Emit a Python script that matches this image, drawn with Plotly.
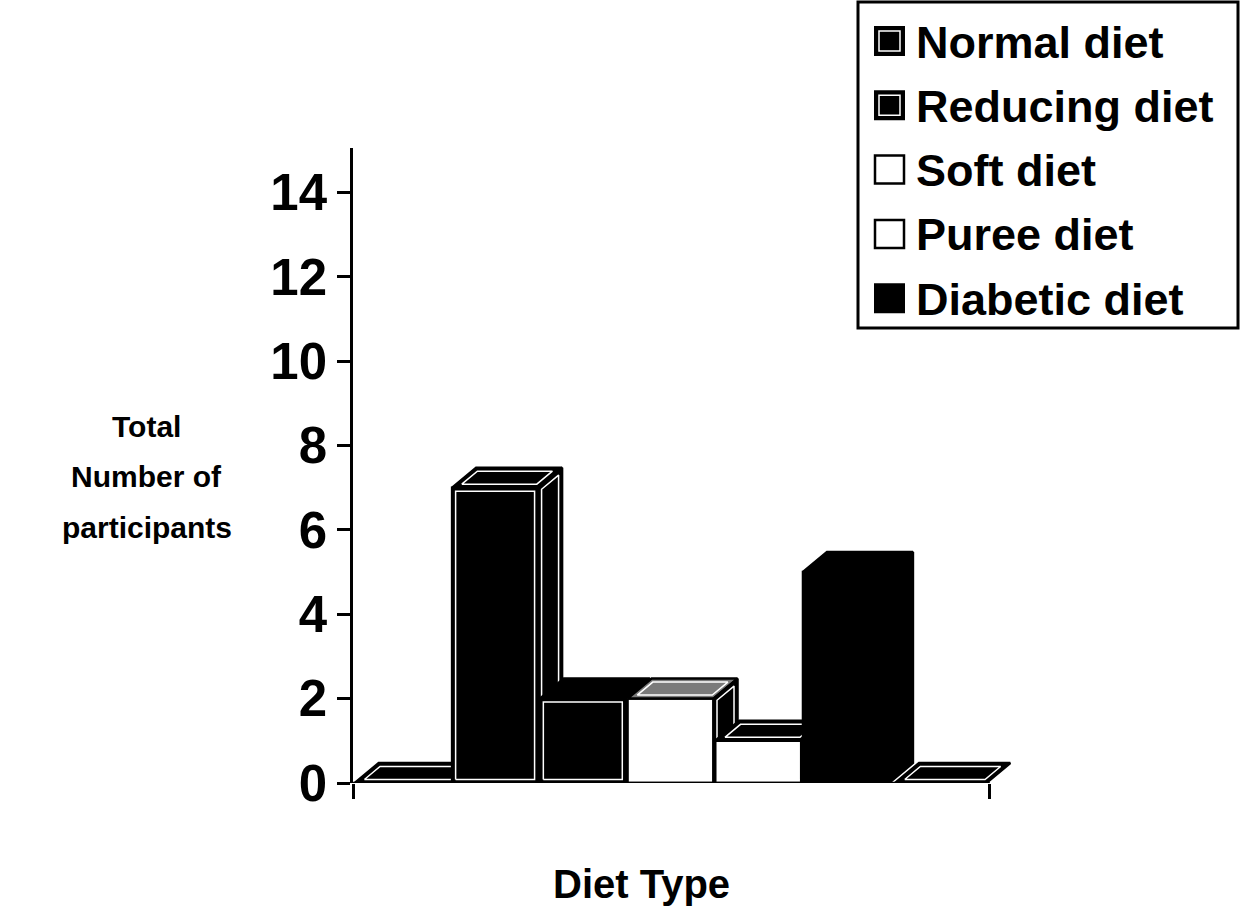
import math
import plotly.graph_objects as go

# ---- data -------------------------------------------------------------
slot_labels = ["", "Normal diet", "Reducing diet", "Soft diet", "Puree diet", "Diabetic diet", ""]
participants = [0, 7, 2, 2, 1, 5, 0]
legend_labels = ["Normal diet", "Reducing diet", "Soft diet", "Puree diet", "Diabetic diet"]
y_tick_values = [0, 2, 4, 6, 8, 10, 12, 14]

# ---- page / axis geometry ---------------------------------------------
W, H = 1249, 914
AXIS_START, AXIS_END = -0.62, 6.64      # ends of the category axis line
X_RANGE = [AXIS_START, 6.95]            # extra room on the right for the box depth
Y_RANGE = [0, 15.05]
M_L, M_T, M_B = 353, 148, 131
M_R = round(W - M_L - (X_RANGE[1] - X_RANGE[0]) * 87.7)
PLOT_W = W - M_L - M_R
PLOT_H = H - M_T - M_B
X_SCALE = PLOT_W / (X_RANGE[1] - X_RANGE[0])
Y_SCALE = PLOT_H / (Y_RANGE[1] - Y_RANGE[0])

# box widths per slot (category units); the empty end slots sit a little wider
BAR_WIDTHS = [1.12, 0.98, 0.98, 0.98, 0.98, 0.98, 1.04]
BAR_SHIFT = [-0.04, 0, 0, 0, 0, 0, 0.08]
DEPTH_DX, DEPTH_DY = 24, 20   # oblique depth of the 3-D boxes, pixels
INNER = 3.5                   # inset of the white highlight line, pixels
FONT = "Liberation Sans, Arial, sans-serif"


def to_px(x, y):
    return (M_L + (x - X_RANGE[0]) * X_SCALE, H - M_B - (y - Y_RANGE[0]) * Y_SCALE)


def to_data(px, py):
    return (X_RANGE[0] + (px - M_L) / X_SCALE, Y_RANGE[0] + (H - M_B - py) / Y_SCALE)


def paper_x(px):
    return (px - M_L) / PLOT_W


def paper_y(py):
    return (H - M_B - py) / PLOT_H


def inset_polygon(poly, d):
    n = len(poly)
    area = sum(poly[i][0] * poly[(i + 1) % n][1] - poly[(i + 1) % n][0] * poly[i][1] for i in range(n))
    sgn = 1 if area > 0 else -1
    lines = []
    for i in range(n):
        x0, y0 = poly[i]
        x1, y1 = poly[(i + 1) % n]
        ex, ey = x1 - x0, y1 - y0
        L = math.hypot(ex, ey)
        nx, ny = sgn * -ey / L, sgn * ex / L
        lines.append(((x0 + nx * d, y0 + ny * d), (ex, ey)))
    out = []
    for i in range(n):
        (p, r) = lines[i - 1]
        (q, s) = lines[i]
        cross = r[0] * s[1] - r[1] * s[0]
        t = ((q[0] - p[0]) * s[1] - (q[1] - p[1]) * s[0]) / cross
        out.append((p[0] + t * r[0], p[1] + t * r[1]))
    return out


# face styles per slot: (fill, draw white highlight)
styles = [
    {"top": ("black", True)},
    {"front": ("black", True), "top": ("black", True), "side": ("black", True)},
    {"front": ("black", True), "top": ("black", False), "side": ("black", True)},
    {"front": ("white", False), "top": ("#7a7a7a", True), "side": ("black", True)},
    {"front": ("white", False), "top": ("black", True), "side": ("black", False)},
    {"front": ("black", False), "top": ("black", False), "side": ("black", False)},
    {"top": ("black", True)},
]

fig = go.Figure()


def add_face(poly_px, fill, highlight):
    pts = [to_data(*p) for p in poly_px] + [to_data(*poly_px[0])]
    fig.add_trace(go.Scatter(
        x=[p[0] for p in pts], y=[p[1] for p in pts],
        mode="lines", fill="toself", fillcolor=fill,
        line=dict(color="black", width=2.5),
        hoverinfo="skip", showlegend=False,
    ))
    if highlight:
        ins = inset_polygon(poly_px, INNER)
        pts = [to_data(*p) for p in ins] + [to_data(*ins[0])]
        fig.add_trace(go.Scatter(
            x=[p[0] for p in pts], y=[p[1] for p in pts],
            mode="lines", line=dict(color="white", width=1.5),
            hoverinfo="skip", showlegend=False,
        ))


# boxes drawn left to right so nearer boxes cover the ones behind
for i, v in enumerate(participants):
    st = styles[i]
    c = i + BAR_SHIFT[i]
    x0, yb = to_px(c - BAR_WIDTHS[i] / 2, 0)
    x1, yt = to_px(c + BAR_WIDTHS[i] / 2, v)
    if v > 0 and "front" in st:
        add_face([(x0, yb), (x1, yb), (x1, yt), (x0, yt)], *st["front"])
    top = [(x0, yt), (x1, yt), (x1 + DEPTH_DX, yt - DEPTH_DY), (x0 + DEPTH_DX, yt - DEPTH_DY)]
    add_face(top, *st["top"])
    if v > 0 and "side" in st:
        side = [(x1, yb), (x1 + DEPTH_DX, yb - DEPTH_DY), (x1 + DEPTH_DX, yt - DEPTH_DY), (x1, yt)]
        add_face(side, *st["side"])

shapes = []
annotations = []

# category axis line (stops short of the box overhang on the right)
shapes.append(dict(type="line", xref="x", yref="y", x0=AXIS_START, x1=AXIS_END, y0=0, y1=0,
                   line=dict(color="black", width=2.5), layer="above"))

# ---- legend (drawn by hand for large swatches) -------------------------
shapes.append(dict(type="rect", xref="paper", yref="paper",
                   x0=paper_x(858), x1=paper_x(1238), y0=paper_y(2), y1=paper_y(328),
                   line=dict(color="black", width=3), fillcolor="white", layer="below"))
swatch = ["ring", "ring", "open", "open", "solid"]
for r, label in enumerate(legend_labels):
    cy = 41 + r * 64.3
    sx0, sx1, sy0, sy1 = 875, 904, cy - 14, cy + 14
    if swatch[r] == "open":
        shapes.append(dict(type="rect", xref="paper", yref="paper",
                           x0=paper_x(sx0), x1=paper_x(sx1), y0=paper_y(sy1), y1=paper_y(sy0),
                           line=dict(color="black", width=2.5), fillcolor="white"))
    else:
        shapes.append(dict(type="rect", xref="paper", yref="paper",
                           x0=paper_x(sx0), x1=paper_x(sx1), y0=paper_y(sy1), y1=paper_y(sy0),
                           line=dict(color="black", width=2), fillcolor="black"))
        if swatch[r] == "ring":
            shapes.append(dict(type="rect", xref="paper", yref="paper",
                               x0=paper_x(sx0 + 4), x1=paper_x(sx1 - 4),
                               y0=paper_y(sy1 - 4), y1=paper_y(sy0 + 4),
                               line=dict(color="white", width=1.5), fillcolor="rgba(0,0,0,0)"))
    annotations.append(dict(xref="paper", yref="paper", x=paper_x(914), y=paper_y(cy + 1),
                            xanchor="left", yanchor="middle", showarrow=False, text=label,
                            font=dict(family=FONT, size=45, color="black", weight="bold")))

# ---- axis titles ---------------------------------------------------------
for text, cy in [("Total", 427), ("Number of", 477), ("participants", 527)]:
    annotations.append(dict(xref="paper", yref="paper", x=paper_x(147), y=paper_y(cy),
                            xanchor="center", yanchor="middle", showarrow=False, text=text,
                            font=dict(family=FONT, size=30, color="black", weight="bold")))
annotations.append(dict(xref="paper", yref="paper", x=paper_x(641), y=paper_y(884),
                        xanchor="center", yanchor="middle", showarrow=False, text="Diet Type",
                        font=dict(family=FONT, size=40, color="black", weight="bold")))

fig.update_layout(
    width=W, height=H,
    margin=dict(l=M_L, r=M_R, t=M_T, b=M_B, pad=0),
    paper_bgcolor="white", plot_bgcolor="white",
    showlegend=False,
    shapes=shapes, annotations=annotations,
    xaxis=dict(range=X_RANGE, showgrid=False, zeroline=False, showline=False,
               tickvals=[AXIS_START, AXIS_END],
               ticks="outside", ticklen=15, tickwidth=2.5, tickcolor="black",
               showticklabels=False, fixedrange=True),
    yaxis=dict(range=Y_RANGE, showgrid=False, zeroline=False, showline=True,
               linecolor="black", linewidth=2.5, tickvals=y_tick_values,
               ticks="outside", ticklen=13, tickwidth=2.5, tickcolor="black",
               tickfont=dict(family=FONT, size=51, color="black", weight="bold"),
               fixedrange=True),
)

fig.write_html("out.html")
